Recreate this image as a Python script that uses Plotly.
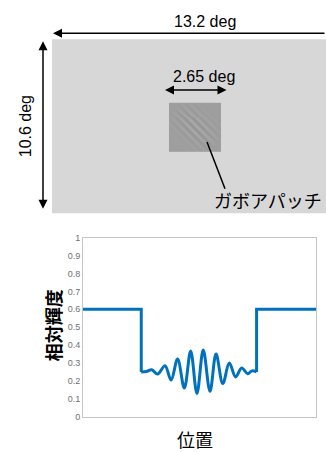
import numpy as np
import plotly.graph_objects as go

# ---- luminance profile across the stimulus (relative luminance vs. position) ----
# flat surround, stepping down into the patch and back up again
step_left_x = [0.0, 0.25, 0.25]
step_left_y = [0.6, 0.6, 0.25]
step_right_x = [0.745, 0.745, 1.0]
step_right_y = [0.25, 0.6, 0.6]

# oscillating Gabor part inside the patch (extremes of the carrier)
osc_x = [0.25, 0.272, 0.295, 0.32, 0.352, 0.378, 0.406, 0.435, 0.462, 0.489,
         0.516, 0.545, 0.571, 0.600, 0.628, 0.655, 0.681, 0.707, 0.725, 0.745]
osc_y = [0.25, 0.252, 0.262, 0.238, 0.285, 0.205, 0.322, 0.160, 0.367, 0.130,
         0.372, 0.142, 0.350, 0.185, 0.300, 0.222, 0.272, 0.240, 0.256, 0.25]

y_tickvals = [0, 0.1, 0.2, 0.3, 0.4, 0.5, 0.6, 0.7, 0.8, 0.9, 1]
y_ticktext = ["0", "0.1", "0.2", "0.3", "0.4", "0.5", "0.6", "0.7", "0.8", "0.9", "1"]

# ---- stimulus sketch labels ----
width_label = "13.2 deg"
height_label = "10.6 deg"
patch_label = "2.65 deg"
patch_name = "ガボアパッチ"
y_title = "相対輝度"
x_title = "位置"

W, H = 326, 452
BLUE = "#0072BD"
LATIN = "Liberation Sans, Arial, sans-serif"
CJK = "Noto Sans CJK JP, sans-serif"

fig = go.Figure()

# profile plot
fig.add_trace(go.Scatter(x=step_left_x, y=step_left_y, mode="lines",
                         line=dict(color=BLUE, width=3), hoverinfo="skip",
                         showlegend=False, xaxis="x", yaxis="y"))
fig.add_trace(go.Scatter(x=osc_x, y=osc_y, mode="lines",
                         line=dict(color=BLUE, width=3, shape="spline", smoothing=1.0),
                         hoverinfo="skip", showlegend=False, xaxis="x", yaxis="y"))
fig.add_trace(go.Scatter(x=step_right_x, y=step_right_y, mode="lines",
                         line=dict(color=BLUE, width=3), hoverinfo="skip",
                         showlegend=False, xaxis="x", yaxis="y"))

# Gabor patch texture: the profile laid across the stripes, tapered along them
px0, py0, pw, ph = 169, 100, 52, 50
cols = np.arange(pw) + 0.5
rows = np.arange(ph) + 0.5
cc, rr = np.meshgrid(cols - pw / 2, rows - ph / 2)
u = (cc - rr) / np.sqrt(2)
v = (cc + rr) / np.sqrt(2)
pos = 0.5 + u / pw * 0.5
prof = np.interp(pos, osc_x, osc_y) - 0.25
taper = np.clip(1 - (v / (pw * 0.55)) ** 2, 0, 1)
gray = 158 + 115 * prof * taper
fig.add_trace(go.Heatmap(x=px0 + cols, y=py0 + rows, z=gray, zmin=0, zmax=255,
                         colorscale=[[0, "rgb(0,0,0)"], [1, "rgb(255,255,255)"]],
                         showscale=False, hoverinfo="skip", xaxis="x2", yaxis="y2"))

shapes = [
    # display area
    dict(type="rect", xref="x2", yref="y2", x0=52, x1=W, y0=35, y1=213,
         fillcolor="#d7d7d7", line=dict(width=0), layer="below"),
    # pointer to the patch
    dict(type="line", xref="x2", yref="y2", x0=207, y0=140, x1=225, y1=188,
         line=dict(color="black", width=1.5)),
]

annotations = []


def arrow(x0, y0, x1, y1, both=False):
    annotations.append(dict(xref="x2", yref="y2", axref="x2", ayref="y2",
                            x=x0, y=y0, ax=x1, ay=y1, text="", showarrow=True,
                            arrowhead=2, startarrowhead=2, arrowsize=1.2,
                            startarrowsize=1.2, arrowwidth=1.5, arrowcolor="black",
                            arrowside="end+start" if both else "end",
                            standoff=0, startstandoff=0))


arrow(53, 29, W, 29)
arrow(43, 37, 43, 210, both=True)
arrow(165, 87, 228, 87, both=True)


def label(x, y, text, size, font=LATIN, angle=0, weight="normal"):
    annotations.append(dict(xref="x2", yref="y2", x=x, y=y, text=text,
                            showarrow=False, textangle=angle,
                            xanchor="center", yanchor="middle",
                            font=dict(family=font, size=size, color="black",
                                      weight=weight)))


label(205, 17, width_label, 16)
label(204, 73, patch_label, 16)
label(25, 124, height_label, 16, angle=-90)
label(268, 199, patch_name, 18, font=CJK)

annotations.append(dict(xref="paper", yref="paper", x=52.5 / W, y=1 - 327 / H,
                        text=y_title, showarrow=False, textangle=-90,
                        xanchor="center", yanchor="middle",
                        font=dict(family=CJK, size=18, color="black", weight="bold")))
annotations.append(dict(xref="paper", yref="paper", x=195 / W, y=1 - 444 / H,
                        text=x_title, showarrow=False,
                        xanchor="center", yanchor="middle",
                        font=dict(family=CJK, size=18, color="black")))

fig.update_layout(
    width=W, height=H,
    margin=dict(l=0, r=0, t=0, b=0),
    paper_bgcolor="white", plot_bgcolor="rgba(0,0,0,0)",
    showlegend=False,
    xaxis=dict(domain=[83 / W, 316 / W], range=[0, 1], showticklabels=False,
               ticks="", showgrid=False, zeroline=False, showline=True,
               mirror=True, linecolor="#c4c4c4", linewidth=1),
    yaxis=dict(domain=[1 - 421 / H, 1 - 238 / H], range=[0, 1],
               tickvals=y_tickvals, ticktext=y_ticktext, ticks="",
               tickfont=dict(family=LATIN, size=9, color="#707070"),
               showgrid=False, zeroline=False, showline=True, mirror=True,
               linecolor="#c4c4c4", linewidth=1),
    xaxis2=dict(domain=[0, 1], range=[0, W], visible=False, anchor="y2"),
    yaxis2=dict(domain=[0, 1], range=[H, 0], visible=False, anchor="x2"),
    shapes=shapes,
    annotations=annotations,
)

fig.write_html("out.html")
